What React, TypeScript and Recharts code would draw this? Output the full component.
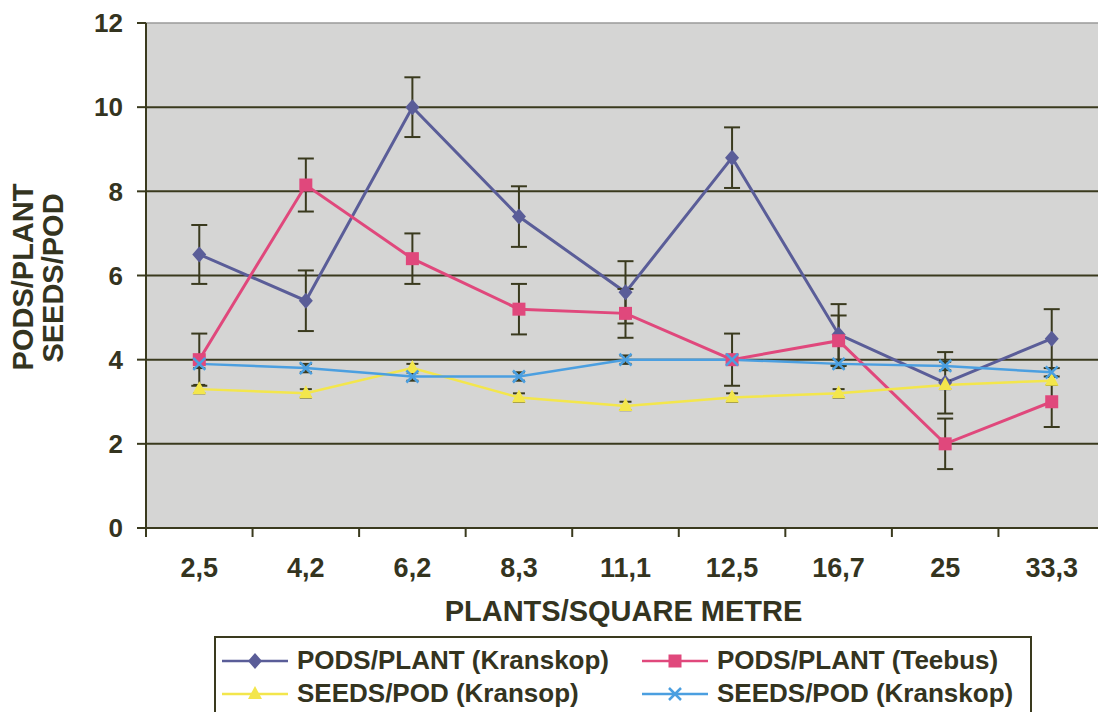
import React from 'react';
import { LineChart, Line, XAxis, YAxis, CartesianGrid, ReferenceLine, ErrorBar } from 'recharts';

// plants per square metre
const categories = ['2,5', '4,2', '6,2', '8,3', '11,1', '12,5', '16,7', '25', '33,3'];

const podsKranskop = [6.5, 5.4, 10.0, 7.4, 5.6, 8.8, 4.6, 3.45, 4.5];
const podsKranskopErr = [0.7, 0.72, 0.71, 0.72, 0.74, 0.72, 0.72, 0.73, 0.7];
const podsTeebus = [4.0, 8.15, 6.4, 5.2, 5.1, 4.0, 4.45, 2.0, 3.0];
const podsTeebusErr = [0.62, 0.63, 0.6, 0.6, 0.58, 0.62, 0.6, 0.6, 0.6];
const seedsKransop = [3.3, 3.2, 3.8, 3.1, 2.9, 3.1, 3.2, 3.4, 3.5];
const seedsKransopErr = [0.1, 0.1, 0.1, 0.1, 0.1, 0.1, 0.1, 0.1, 0.1];
const seedsKranskop = [3.9, 3.8, 3.6, 3.6, 4.0, 4.0, 3.9, 3.85, 3.7];
const seedsKranskopErr = [0.1, 0.1, 0.1, 0.1, 0.1, 0.1, 0.1, 0.1, 0.1];

const yTicks = [0, 2, 4, 6, 8, 10, 12];
const gridValues = [2, 4, 6, 8, 10];

const seriesNames = [
  'PODS/PLANT (Kranskop)',
  'PODS/PLANT (Teebus)',
  'SEEDS/POD (Kransop)',
  'SEEDS/POD (Kranskop)',
];

const NAVY = '#5a5d98';
const PINK = '#e0487c';
const YELLOW = '#f3e64c';
const BLUE = '#4b9fe0';
const DARK = '#3a3a1e';
const TEXT = '#34341f';
const FONT = '"Liberation Sans", Arial, sans-serif';

const data = categories.map((c, i) => ({
  name: c,
  pk: podsKranskop[i],
  pkErr: podsKranskopErr[i],
  pt: podsTeebus[i],
  ptErr: podsTeebusErr[i],
  sk1: seedsKransop[i],
  sk1Err: seedsKransopErr[i],
  sk2: seedsKranskop[i],
  sk2Err: seedsKranskopErr[i],
}));

const CHART_W = 1110;
const CHART_H = 712;
const PLOT_LEFT = 146;
const PLOT_RIGHT = 1105;
const PLOT_TOP = 23;
const PLOT_BOTTOM = 528;
const X_AXIS_H = 60;
const BAND = (PLOT_RIGHT - PLOT_LEFT) / categories.length;

const diamond = (cx: number, cy: number, fill: string, key?: any) => (
  <path key={key} d={`M${cx},${cy - 8}L${cx + 7},${cy}L${cx},${cy + 8}L${cx - 7},${cy}Z`} fill={fill} />
);
const square = (cx: number, cy: number, fill: string, key?: any) => (
  <rect key={key} x={cx - 6.5} y={cy - 6.5} width={13} height={13} fill={fill} />
);
const triangle = (cx: number, cy: number, fill: string, key?: any) => (
  <path key={key} d={`M${cx},${cy - 8}L${cx + 7},${cy + 5}L${cx - 7},${cy + 5}Z`} fill={fill} />
);
const cross = (cx: number, cy: number, stroke: string, key?: any) => (
  <path key={key} d={`M${cx - 6},${cy - 6}L${cx + 6},${cy + 6}M${cx + 6},${cy - 6}L${cx - 6},${cy + 6}`} stroke={stroke} strokeWidth={2.5} fill="none" />
);

const markers = [
  (cx: number, cy: number, k?: any) => diamond(cx, cy, NAVY, k),
  (cx: number, cy: number, k?: any) => square(cx, cy, PINK, k),
  (cx: number, cy: number, k?: any) => triangle(cx, cy, YELLOW, k),
  (cx: number, cy: number, k?: any) => cross(cx, cy, BLUE, k),
];
const colors = [NAVY, PINK, YELLOW, BLUE];

const makeDot = (idx: number) => (props: any) => {
  const { cx, cy, index } = props;
  if (cx == null || cy == null) return <g key={`d${idx}-${index}`} />;
  return markers[idx](cx, cy, `d${idx}-${index}`);
};

const XTick = (props: any) => {
  const { x, y, payload } = props;
  const tx = x - BAND / 2;
  return (
    <g>
      <line x1={tx} y1={y} x2={tx} y2={y + 9} stroke={DARK} strokeWidth={2} />
      <text x={x} y={y + 49} textAnchor="middle" fill={TEXT} fontSize={27} fontWeight="bold" fontFamily={FONT}>
        {payload.value}
      </text>
    </g>
  );
};

const XTitle = (props: any) => {
  const vb = props.viewBox || {};
  const cx = (vb.x ?? PLOT_LEFT) + (vb.width ?? PLOT_RIGHT - PLOT_LEFT) / 2;
  return (
    <text x={cx - 2} y={PLOT_BOTTOM + 93} textAnchor="middle" fill={TEXT} fontSize={29} fontWeight="bold" fontFamily={FONT}>
      PLANTS/SQUARE METRE
    </text>
  );
};

const YTitle = () => (
  <g fill={TEXT} fontSize={29} fontWeight="bold" fontFamily={FONT}>
    <text transform="translate(33,277) rotate(-90)" textAnchor="middle">PODS/PLANT</text>
    <text transform="translate(63,278) rotate(-90)" textAnchor="middle">SEEDS/POD</text>
  </g>
);

const LegendBox = () => (
  <div
    style={{
      position: 'absolute',
      left: 214,
      top: 636,
      width: 818,
      height: 100,
      border: `2px solid ${DARK}`,
      boxSizing: 'border-box',
      fontFamily: FONT,
      fontWeight: 'bold',
      fontSize: 26,
      color: TEXT,
    }}
  >
    {seriesNames.map((name, i) => {
      const col = i % 2;
      const row = Math.floor(i / 2);
      return (
        <div
          key={name}
          style={{
            position: 'absolute',
            left: col === 0 ? 6 : 426,
            top: 6 + row * 33,
            height: 33,
            display: 'flex',
            alignItems: 'center',
            whiteSpace: 'nowrap',
          }}
        >
          <svg width={66} height={20} style={{ marginRight: 9 }}>
            <line x1={0} y1={10} x2={66} y2={10} stroke={colors[i]} strokeWidth={2.5} />
            {markers[i](33, 10)}
          </svg>
          <span>{name}</span>
        </div>
      );
    })}
  </div>
);

export default function App() {
  return (
    <div style={{ position: 'absolute', left: 0, top: 0, width: 1098, height: 712, overflow: 'hidden', background: '#fff' }}>
      <LineChart
        width={CHART_W}
        height={CHART_H}
        data={data}
        margin={{ top: PLOT_TOP, right: CHART_W - PLOT_RIGHT, bottom: CHART_H - PLOT_BOTTOM - X_AXIS_H, left: 0 }}
      >
        <CartesianGrid fill="#d5d5d4" horizontal={false} vertical={false} />
        {gridValues.map((v) => (
          <ReferenceLine key={v} y={v} stroke={DARK} strokeWidth={2} />
        ))}
        <ReferenceLine y={12} stroke="#9a9a9a" strokeWidth={1.5} />
        <XAxis
          dataKey="name"
          height={X_AXIS_H}
          padding={{ left: BAND / 2, right: BAND / 2 }}
          axisLine={{ stroke: DARK, strokeWidth: 2 }}
          tickLine={false}
          tickSize={0}
          tickMargin={0}
          interval={0}
          tick={<XTick />}
          label={<XTitle />}
        />
        <YAxis
          width={PLOT_LEFT}
          domain={[0, 12]}
          ticks={yTicks}
          interval={0}
          axisLine={{ stroke: DARK, strokeWidth: 2 }}
          tickLine={{ stroke: DARK, strokeWidth: 2 }}
          tickSize={9}
          tickMargin={14}
          tick={{ fill: TEXT, fontSize: 26, fontWeight: 'bold', fontFamily: FONT }}
          label={<YTitle />}
        />
        <Line dataKey="pk" name={seriesNames[0]} stroke={NAVY} strokeWidth={3} dot={makeDot(0)} activeDot={false} isAnimationActive={false}>
          <ErrorBar dataKey="pkErr" direction="y" width={8} stroke={DARK} strokeWidth={2} />
        </Line>
        <Line dataKey="pt" name={seriesNames[1]} stroke={PINK} strokeWidth={3} dot={makeDot(1)} activeDot={false} isAnimationActive={false}>
          <ErrorBar dataKey="ptErr" direction="y" width={8} stroke={DARK} strokeWidth={2} />
        </Line>
        <Line dataKey="sk1" name={seriesNames[2]} stroke={YELLOW} strokeWidth={2.5} dot={makeDot(2)} activeDot={false} isAnimationActive={false}>
          <ErrorBar dataKey="sk1Err" direction="y" width={6} stroke={DARK} strokeWidth={2} />
        </Line>
        <Line dataKey="sk2" name={seriesNames[3]} stroke={BLUE} strokeWidth={2.5} dot={makeDot(3)} activeDot={false} isAnimationActive={false}>
          <ErrorBar dataKey="sk2Err" direction="y" width={6} stroke={DARK} strokeWidth={2} />
        </Line>
      </LineChart>
      <LegendBox />
    </div>
  );
}
